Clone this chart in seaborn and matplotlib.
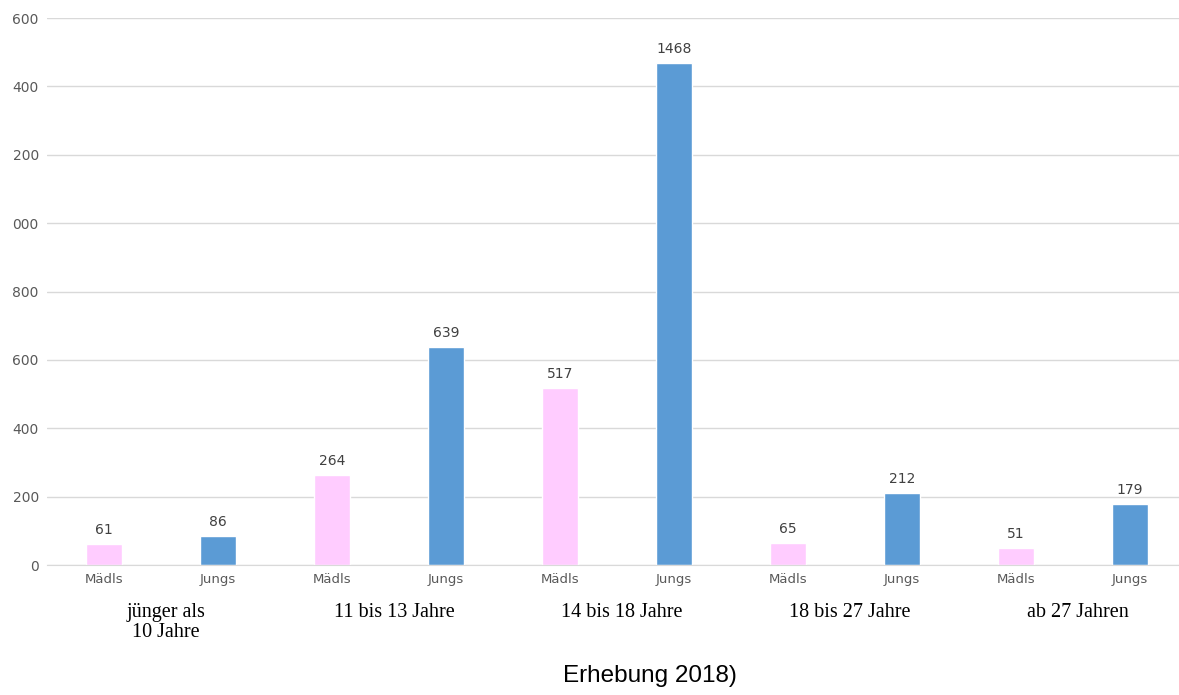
import numpy as np
import pandas as pd
import matplotlib
matplotlib.use("Agg")
import matplotlib.pyplot as plt
import seaborn as sns

# data
groups = ["jünger als\n10 Jahre", "11 bis 13 Jahre", "14 bis 18 Jahre", "18 bis 27 Jahre", "ab 27 Jahren"]
genders = ["Mädls", "Jungs"]
maedls = [61, 264, 517, 65, 51]
jungs = [86, 639, 1468, 212, 179]
y_ticks = [0, 200, 400, 600, 800, 1000, 1200, 1400, 1600]
# leading "1" is cut off in the original picture
y_tick_labels = ["0", "200", "400", "600", "800", "000", "200", "400", "600"]
footer = "Erhebung 2018)"

rows = []
for g, m, j in zip(groups, maedls, jungs):
    rows.append({"bar": g + "|Mädls", "gender": "Mädls", "value": m})
    rows.append({"bar": g + "|Jungs", "gender": "Jungs", "value": j})
df = pd.DataFrame(rows)

sns.set_style("white")
fig = plt.figure(figsize=(11.79, 6.95), dpi=100)
ax = fig.add_axes([0.04, 0.187, 0.96, 0.787])

sns.barplot(data=df, x="bar", y="value", hue="gender", dodge=False,
            palette={"Mädls": "#FFCCFF", "Jungs": "#5B9BD5"},
            width=0.32, ax=ax, legend=False, saturation=1)

for c in ax.containers:
    ax.bar_label(c, padding=5, fontsize=10, color="#404040", fontfamily="DejaVu Sans")

ax.set_ylim(0, 1600)
ax.set_xlim(-0.5, 9.43)
ax.set_yticks(y_ticks)
ax.set_yticklabels(y_tick_labels, fontsize=10, color="#595959")
ax.set_xticks(range(len(df)))
ax.set_xticklabels(df["gender"], fontsize=9.5, color="#595959")
ax.tick_params(axis="both", length=0, pad=6)
ax.yaxis.grid(True, color="#D9D9D9", linewidth=1)
ax.set_axisbelow(True)
for s in ["top", "right", "left"]:
    ax.spines[s].set_visible(False)
ax.spines["bottom"].set_color("#D9D9D9")
ax.set_xlabel("")
ax.set_ylabel("")

# group labels under each pair
for i, g in enumerate(groups):
    ax.text(2 * i + 0.545, -0.07, g, transform=ax.get_xaxis_transform(),
            ha="center", va="top", fontsize=14.5, fontfamily="Liberation Serif",
            color="black", linespacing=1.05)

fig.text(0.551, 0.012, footer, ha="center", va="bottom", fontsize=17.5,
         fontfamily="Liberation Sans", color="black")

fig.savefig("out.png", dpi=100)
